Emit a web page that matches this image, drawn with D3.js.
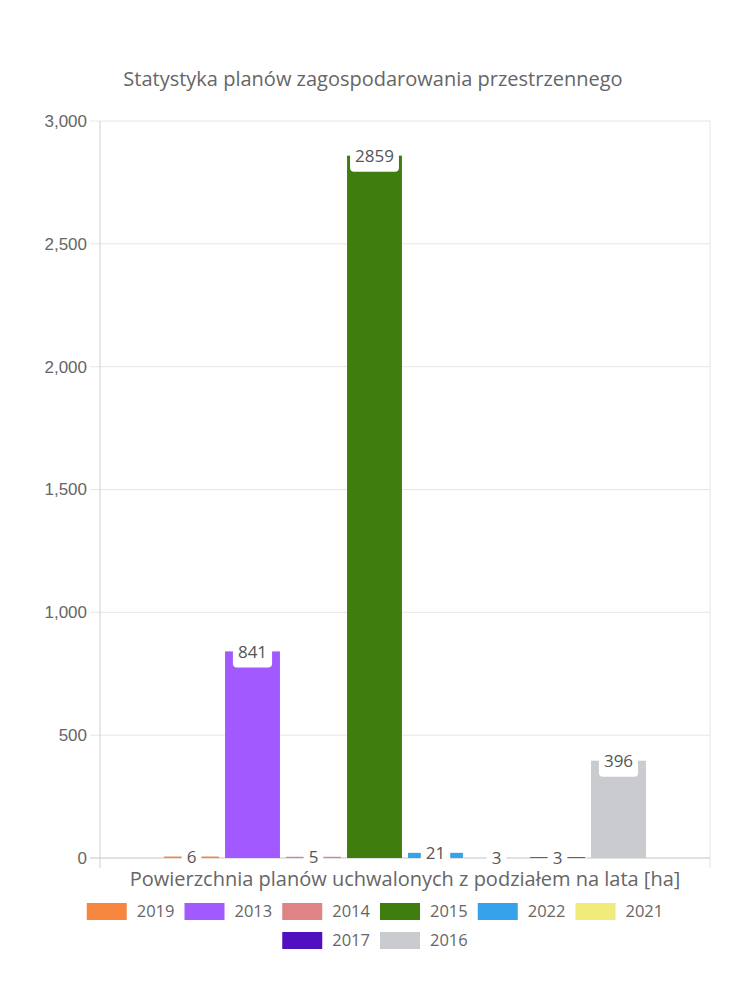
<!DOCTYPE html>
<html>
<head>
<meta charset="utf-8">
<script src="https://cdn.jsdelivr.net/npm/d3@7"></script>
<style>
  body { margin: 0; background: #fff; }
  svg text { font-family: "Open Sans", sans-serif; }
</style>
</head>
<body>
<svg width="750" height="1000"></svg>
<script>
// Data
var years = ["2019", "2013", "2014", "2015", "2022", "2021", "2017", "2016"];
var values = [6, 841, 5, 2859, 21, 3, 3, 396];
var colors = ["#f5853f", "#a259ff", "#e08384", "#3e7d0e", "#36a2eb", "#f0eb7a", "#5010c0", "#c9cbcf"];
var yTicks = [0, 500, 1000, 1500, 2000, 2500, 3000];
var titleText = "Statystyka planów zagospodarowania przestrzennego";
var xTitle = "Powierzchnia planów uchwalonych z podziałem na lata [ha]";

var svg = d3.select("svg");
var plotLeft = 100, plotRight = 710, plotTop = 121, plotBottom = 858;

var x = d3.scaleBand().domain([""]).range([plotLeft, plotRight]);
var xInner = d3.scaleBand()
  .domain(years)
  .range([x.bandwidth() * 0.1, x.bandwidth() * 0.9])
  .paddingInner(0.1)
  .paddingOuter(0.05);
var y = d3.scaleLinear().domain([0, 3000]).range([plotBottom, plotTop]);

// grid lines
svg.append("g")
  .selectAll("line")
  .data(yTicks.slice(1))
  .enter()
  .append("line")
    .attr("x1", plotLeft - 10)
    .attr("x2", plotRight)
    .attr("y1", d => y(d))
    .attr("y2", d => y(d))
    .attr("stroke", "#e6e6e6");

// y axis labels
svg.append("g")
  .selectAll("text")
  .data(yTicks)
  .enter()
  .append("text")
    .attr("x", plotLeft - 13)
    .attr("y", d => y(d))
    .attr("dy", "0.35em")
    .attr("text-anchor", "end")
    .style("font-family", "'Liberation Sans', Arial, sans-serif")
    .style("font-size", "17px")
    .attr("fill", "#666")
    .text(d => d3.format(",")(d));

// frame lines
svg.append("line").attr("x1", plotRight).attr("x2", plotRight).attr("y1", plotTop).attr("y2", plotBottom + 10).attr("stroke", "#e6e6e6");
svg.append("line").attr("x1", plotLeft).attr("x2", plotLeft).attr("y1", plotTop).attr("y2", plotBottom + 10).attr("stroke", "#cfcfcf");
svg.append("line").attr("x1", plotLeft - 10).attr("x2", plotRight).attr("y1", plotBottom).attr("y2", plotBottom).attr("stroke", "#c4c4c4");

// bars
var g = svg.append("g").attr("transform", "translate(" + x("") + ",0)");
g.selectAll("rect.bar")
  .data(years)
  .enter()
  .append("rect")
    .attr("class", "bar")
    .attr("x", d => xInner(d))
    .attr("width", xInner.bandwidth())
    .attr("y", (d, i) => y(values[i]))
    .attr("height", (d, i) => plotBottom - y(values[i]))
    .attr("fill", (d, i) => colors[i]);

// value labels
var lab = g.selectAll("g.lab")
  .data(years)
  .enter()
  .append("g")
    .attr("class", "lab")
    .attr("transform", (d, i) => "translate(" + (xInner(d) + xInner.bandwidth() / 2) + "," + y(values[i]) + ")");

lab.append("text")
  .attr("y", 6.5)
  .attr("text-anchor", "middle")
  .style("font-size", "17px")
  .attr("fill", "#555")
  .text((d, i) => values[i]);

lab.each(function() {
  var t = d3.select(this).select("text");
  var w = t.node().getComputedTextLength();
  d3.select(this).insert("rect", "text")
    .attr("x", -w / 2 - 5)
    .attr("width", w + 10)
    .attr("y", -12)
    .attr("height", 28)
    .attr("rx", 4)
    .attr("fill", "#fff");
});

// title
svg.append("text")
  .attr("x", 373)
  .attr("y", 79)
  .attr("dy", "0.35em")
  .attr("text-anchor", "middle")
  .style("font-size", "20px")
  .attr("fill", "#666")
  .text(titleText);

// x axis title
svg.append("text")
  .attr("x", 405)
  .attr("y", 879)
  .attr("dy", "0.35em")
  .attr("text-anchor", "middle")
  .style("font-size", "20px")
  .attr("fill", "#666")
  .text(xTitle);

// legend
var rows = [years.slice(0, 6), years.slice(6)];
var rowY = [903, 932];
rows.forEach(function(row, r) {
  var items = [];
  var tmp = svg.append("g");
  row.forEach(function(yr) {
    var t = tmp.append("text").style("font-size", "16.5px").text(yr);
    items.push(50 + t.node().getComputedTextLength());
  });
  tmp.remove();
  var total = d3.sum(items) + 10 * (items.length - 1);
  var cx = 375 - total / 2;
  row.forEach(function(yr, k) {
    var i = years.indexOf(yr);
    var it = svg.append("g").attr("transform", "translate(" + cx + "," + rowY[r] + ")");
    it.append("rect").attr("width", 40).attr("height", 17).attr("fill", colors[i]);
    it.append("text")
      .attr("x", 50)
      .attr("y", 8.5)
      .attr("dy", "0.35em")
      .style("font-size", "16.5px")
      .attr("fill", "#666")
      .text(yr);
    cx += items[k] + 10;
  });
});
</script>
</body>
</html>
